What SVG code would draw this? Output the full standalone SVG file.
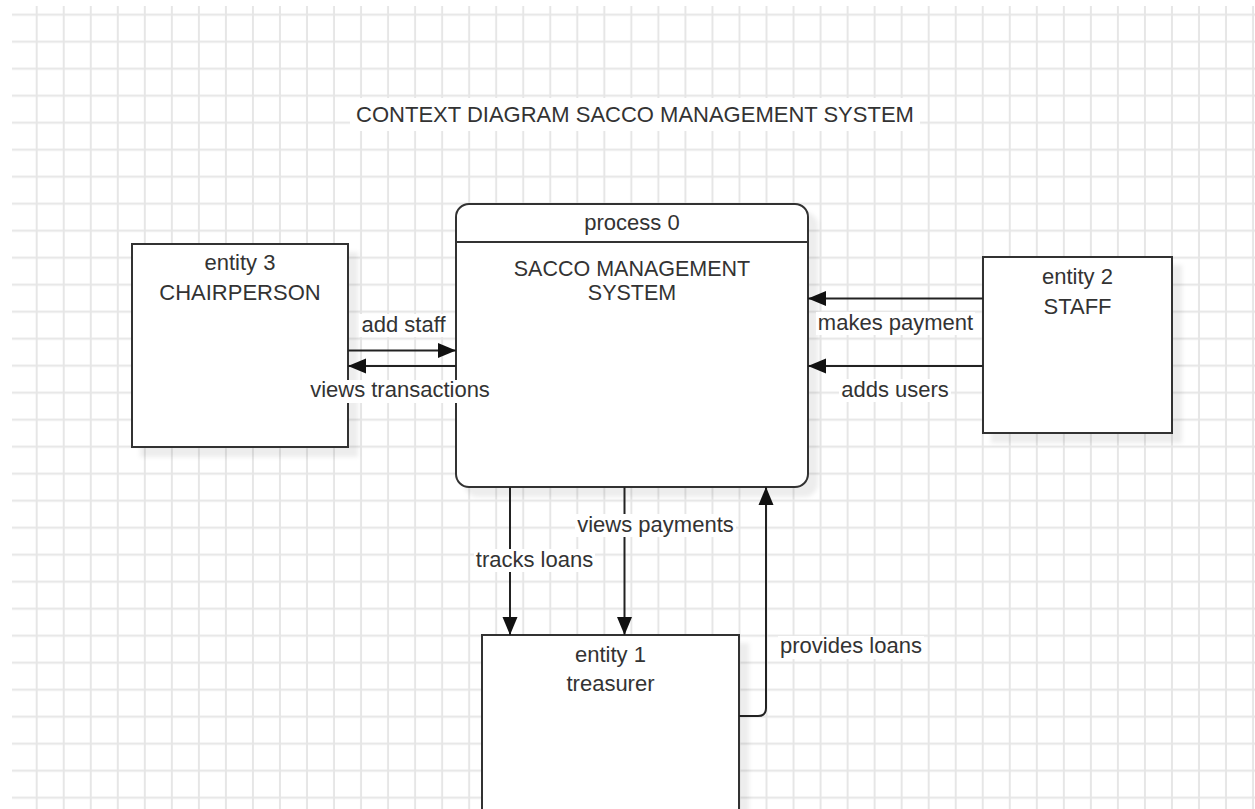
<svg xmlns="http://www.w3.org/2000/svg" width="1255" height="809" viewBox="0 0 1255 809">
<style>
.node{fill:#fff;stroke:#333;stroke-width:2;filter:url(#sh)}
.t{font-family:"Liberation Sans",Arial,sans-serif;font-size:22px;fill:#333;text-anchor:middle}
.c{fill:none;stroke:#222;stroke-width:2;marker-end:url(#ah)}
.bg{fill:#fff}
</style>
<defs>
<pattern id="grid" patternUnits="userSpaceOnUse" x="23.2" y="1.2" width="27.03" height="27">
<path d="M13.5,0V27M0,13.5H27.03" stroke="#e6e6e6" stroke-width="2" fill="none"/>
</pattern>
<filter id="sh" x="-10%" y="-10%" width="130%" height="130%">
<feDropShadow dx="9" dy="9" stdDeviation="2" flood-color="#000" flood-opacity="0.07"/>
</filter>
<marker id="ah" markerUnits="userSpaceOnUse" markerWidth="18" markerHeight="16" refX="18" refY="8" orient="auto" viewBox="0 0 18 16">
<path d="M0,0.5L18,8L0,15.5z" fill="#111"/>
</marker>
</defs>
<rect width="1255" height="809" fill="#fff"/>
<rect x="12" y="6" width="1243" height="803" fill="url(#grid)"/>
<g id="title">
<rect class="bg" x="350" y="98" width="570" height="33"/>
<text class="t" x="635" y="122">CONTEXT DIAGRAM SACCO MANAGEMENT SYSTEM</text>
</g>
<g id="entity3">
<rect class="node" x="132" y="244" width="216" height="203"/>
<text class="t" x="240" y="270">entity 3</text>
<text class="t" x="240" y="300">CHAIRPERSON</text>
</g>
<g id="process0">
<rect class="node" x="456" y="204" width="352" height="283" rx="13" ry="13"/>
<line x1="456" y1="242" x2="808" y2="242" stroke="#333" stroke-width="2"/>
<text class="t" x="632" y="230">process 0</text>
<text class="t" x="632" y="275.5" style="font-size:21.5px">SACCO MANAGEMENT</text>
<text class="t" x="632" y="299.5" style="font-size:21.5px">SYSTEM</text>
</g>
<g id="entity2">
<rect class="node" x="983" y="257" width="189" height="176"/>
<text class="t" x="1077.5" y="284">entity 2</text>
<text class="t" x="1077.5" y="314">STAFF</text>
</g>
<g id="entity1">
<rect class="node" x="482" y="635" width="257" height="200"/>
<text class="t" x="610.5" y="662">entity 1</text>
<text class="t" x="610.5" y="691">treasurer</text>
</g>
<g id="connectors">
<path class="c" d="M348,350.5H456"/>
<path class="c" d="M456,366H348"/>
<path class="c" d="M983,298.5H808"/>
<path class="c" d="M983,366H808"/>
<path class="c" d="M510,487V635"/>
<path class="c" d="M624.5,487V635"/>
<path class="c" d="M739,716H758Q766,716 766,708V487"/>
<rect class="bg" x="359" y="314" width="89" height="23"/>
<text class="t" x="403.5" y="332">add staff</text>
<rect class="bg" x="308" y="380" width="184" height="23"/>
<text class="t" x="400" y="397">views transactions</text>
<rect class="bg" x="816" y="312" width="159" height="23"/>
<text class="t" x="895.5" y="330">makes payment</text>
<rect class="bg" x="839" y="379" width="112" height="23"/>
<text class="t" x="895" y="397">adds users</text>
<rect class="bg" x="474" y="549" width="121" height="23"/>
<text class="t" x="534.5" y="567">tracks loans</text>
<rect class="bg" x="575" y="514" width="161" height="23"/>
<text class="t" x="655.5" y="532">views payments</text>
<rect class="bg" x="778" y="636" width="146" height="23"/>
<text class="t" x="851" y="653">provides loans</text>
</g>
</svg>
